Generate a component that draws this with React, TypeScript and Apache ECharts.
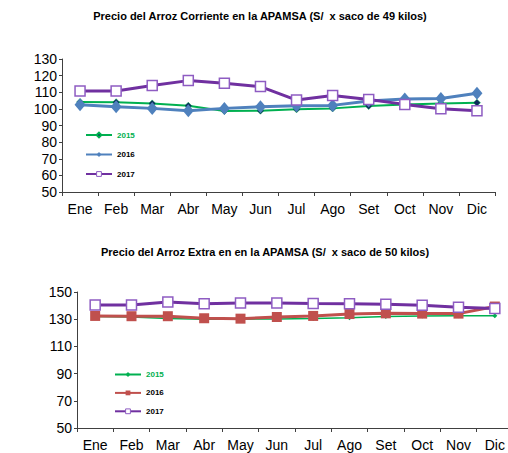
import React, { useEffect, useRef } from "react";
import * as echarts from "echarts";

const months = ["Ene", "Feb", "Mar", "Abr", "May", "Jun", "Jul", "Ago", "Set", "Oct", "Nov", "Dic"];
const seriesNames = ["2015", "2016", "2017"];

const corriente2015 = [104.1, 104.0, 103.3, 101.9, 98.7, 98.9, 99.7, 100.3, 101.7, 102.7, 103.3, 103.7];
const corriente2016 = [102.5, 101.3, 100.3, 98.9, 100.3, 101.3, 101.9, 102.1, 104.8, 105.9, 106.3, 109.4];
const corriente2017 = [110.8, 110.8, 114.0, 117.0, 115.4, 113.4, 105.3, 108.1, 105.7, 102.7, 100.1, 98.9];
const corrienteTicks = { min: 50, max: 130, interval: 10 };

const extra2015 = [132.0, 131.6, 130.6, 130.0, 130.0, 130.2, 130.5, 131.0, 132.0, 132.3, 132.6, 132.6];
const extra2016 = [132.4, 132.2, 132.2, 130.7, 130.4, 131.6, 132.4, 133.8, 134.3, 134.1, 134.1, 139.3];
const extra2017 = [140.4, 140.4, 142.6, 141.4, 141.9, 141.9, 141.6, 141.4, 141.0, 140.2, 138.7, 137.8];
const extraTicks = { min: 50, max: 150, interval: 20 };

const titleTop = "Precio del Arroz Corriente en la APAMSA (S/  x saco de 49 kilos)";
const titleBottom = "Precio del Arroz Extra en en la APAMSA (S/  x saco de 50 kilos)";

const FONT = "'Liberation Sans', Arial, sans-serif";
const GREEN = "#00B050";
const BLUE = "#4F81BD";
const RED = "#C0504D";
const PURPLE = "#7030A0";

function axes(ticks: { min: number; max: number; interval: number }) {
  return {
    xAxis: {
      type: "category",
      data: months,
      boundaryGap: true,
      axisLine: { lineStyle: { color: "#404040", width: 1 } },
      axisTick: { show: true, length: 4, lineStyle: { color: "#404040" } },
      axisLabel: { color: "#000", fontSize: 14, fontFamily: FONT, margin: 10, interval: 0 },
      splitLine: { show: false },
    },
    yAxis: {
      type: "value",
      min: ticks.min,
      max: ticks.max,
      interval: ticks.interval,
      axisLine: { show: true, lineStyle: { color: "#404040", width: 1 } },
      axisTick: { show: true, length: 3, lineStyle: { color: "#404040" } },
      axisLabel: { color: "#000", fontSize: 14, fontFamily: FONT, margin: 5 },
      splitLine: { show: false },
    },
  };
}

function legendCfg(left: number, top: number, gap: number) {
  return {
    orient: "vertical",
    left,
    top,
    itemWidth: 26,
    itemHeight: 6,
    itemGap: gap,
    textStyle: { fontSize: 8, fontWeight: "bold", fontFamily: FONT, color: "#000" },
    data: [
      { name: seriesNames[0], textStyle: { color: GREEN } },
      { name: seriesNames[1] },
      { name: seriesNames[2], itemStyle: { borderWidth: 1 } },
    ],
  };
}

function topOption() {
  return {
    animation: false,
    title: {
      text: titleTop,
      left: 255,
      textAlign: "center",
      top: 5,
      textStyle: { fontSize: 11, fontWeight: "bold", fontFamily: FONT, color: "#000" },
    },
    grid: { left: 62, top: 59, width: 433, height: 133 },
    legend: legendCfg(80, 126, 11.5),
    ...axes(corrienteTicks),
    series: [
      {
        name: seriesNames[0],
        type: "line",
        data: corriente2015,
        symbol: "diamond",
        symbolSize: 7,
        lineStyle: { color: GREEN, width: 2 },
        itemStyle: { color: "#0B2A5A", borderColor: GREEN, borderWidth: 0.5 },
        color: GREEN,
      },
      {
        name: seriesNames[1],
        type: "line",
        data: corriente2016,
        symbol: "diamond",
        symbolSize: [11, 13],
        lineStyle: { color: BLUE, width: 3 },
        itemStyle: { color: BLUE },
        color: BLUE,
      },
      {
        name: seriesNames[2],
        type: "line",
        data: corriente2017,
        symbol: "rect",
        symbolSize: 10,
        lineStyle: { color: PURPLE, width: 3 },
        itemStyle: { color: "#fff", borderColor: "#8E5CC2", borderWidth: 1.5 },
        color: PURPLE,
      },
    ],
  };
}

function bottomOption() {
  return {
    animation: false,
    title: {
      text: titleBottom,
      left: 260,
      textAlign: "center",
      top: 13,
      textStyle: { fontSize: 11, fontWeight: "bold", fontFamily: FONT, color: "#000" },
    },
    grid: { left: 77, top: 64, width: 436, height: 136 },
    legend: legendCfg(109, 137.5, 10.4),
    ...axes(extraTicks),
    series: [
      {
        name: seriesNames[0],
        type: "line",
        data: extra2015,
        symbol: "diamond",
        symbolSize: 5,
        lineStyle: { color: GREEN, width: 1.5 },
        itemStyle: { color: GREEN },
        color: GREEN,
      },
      {
        name: seriesNames[1],
        type: "line",
        data: extra2016,
        symbol: "rect",
        symbolSize: 10,
        lineStyle: { color: RED, width: 3 },
        itemStyle: { color: RED },
        color: RED,
      },
      {
        name: seriesNames[2],
        type: "line",
        data: extra2017,
        symbol: "rect",
        symbolSize: 10,
        lineStyle: { color: PURPLE, width: 3 },
        itemStyle: { color: "#fff", borderColor: "#8E5CC2", borderWidth: 1.5 },
        color: PURPLE,
      },
    ],
  };
}

function Chart({ option, style }: { option: any; style: React.CSSProperties }) {
  const ref = useRef<HTMLDivElement>(null);
  useEffect(() => {
    if (!ref.current) return;
    const chart = echarts.init(ref.current, undefined, { renderer: "svg" });
    chart.setOption(option);
    return () => chart.dispose();
  }, [option]);
  return <div ref={ref} style={style} />;
}

const topOpt = topOption();
const bottomOpt = bottomOption();

export default function App() {
  return (
    <div style={{ position: "absolute", left: 0, top: 0, width: 520, height: 453, background: "#fff", overflow: "hidden" }}>
      <Chart option={topOpt} style={{ position: "absolute", left: 0, top: 0, width: 520, height: 228 }} />
      <Chart option={bottomOpt} style={{ position: "absolute", left: 0, top: 228, width: 520, height: 225 }} />
    </div>
  );
}
